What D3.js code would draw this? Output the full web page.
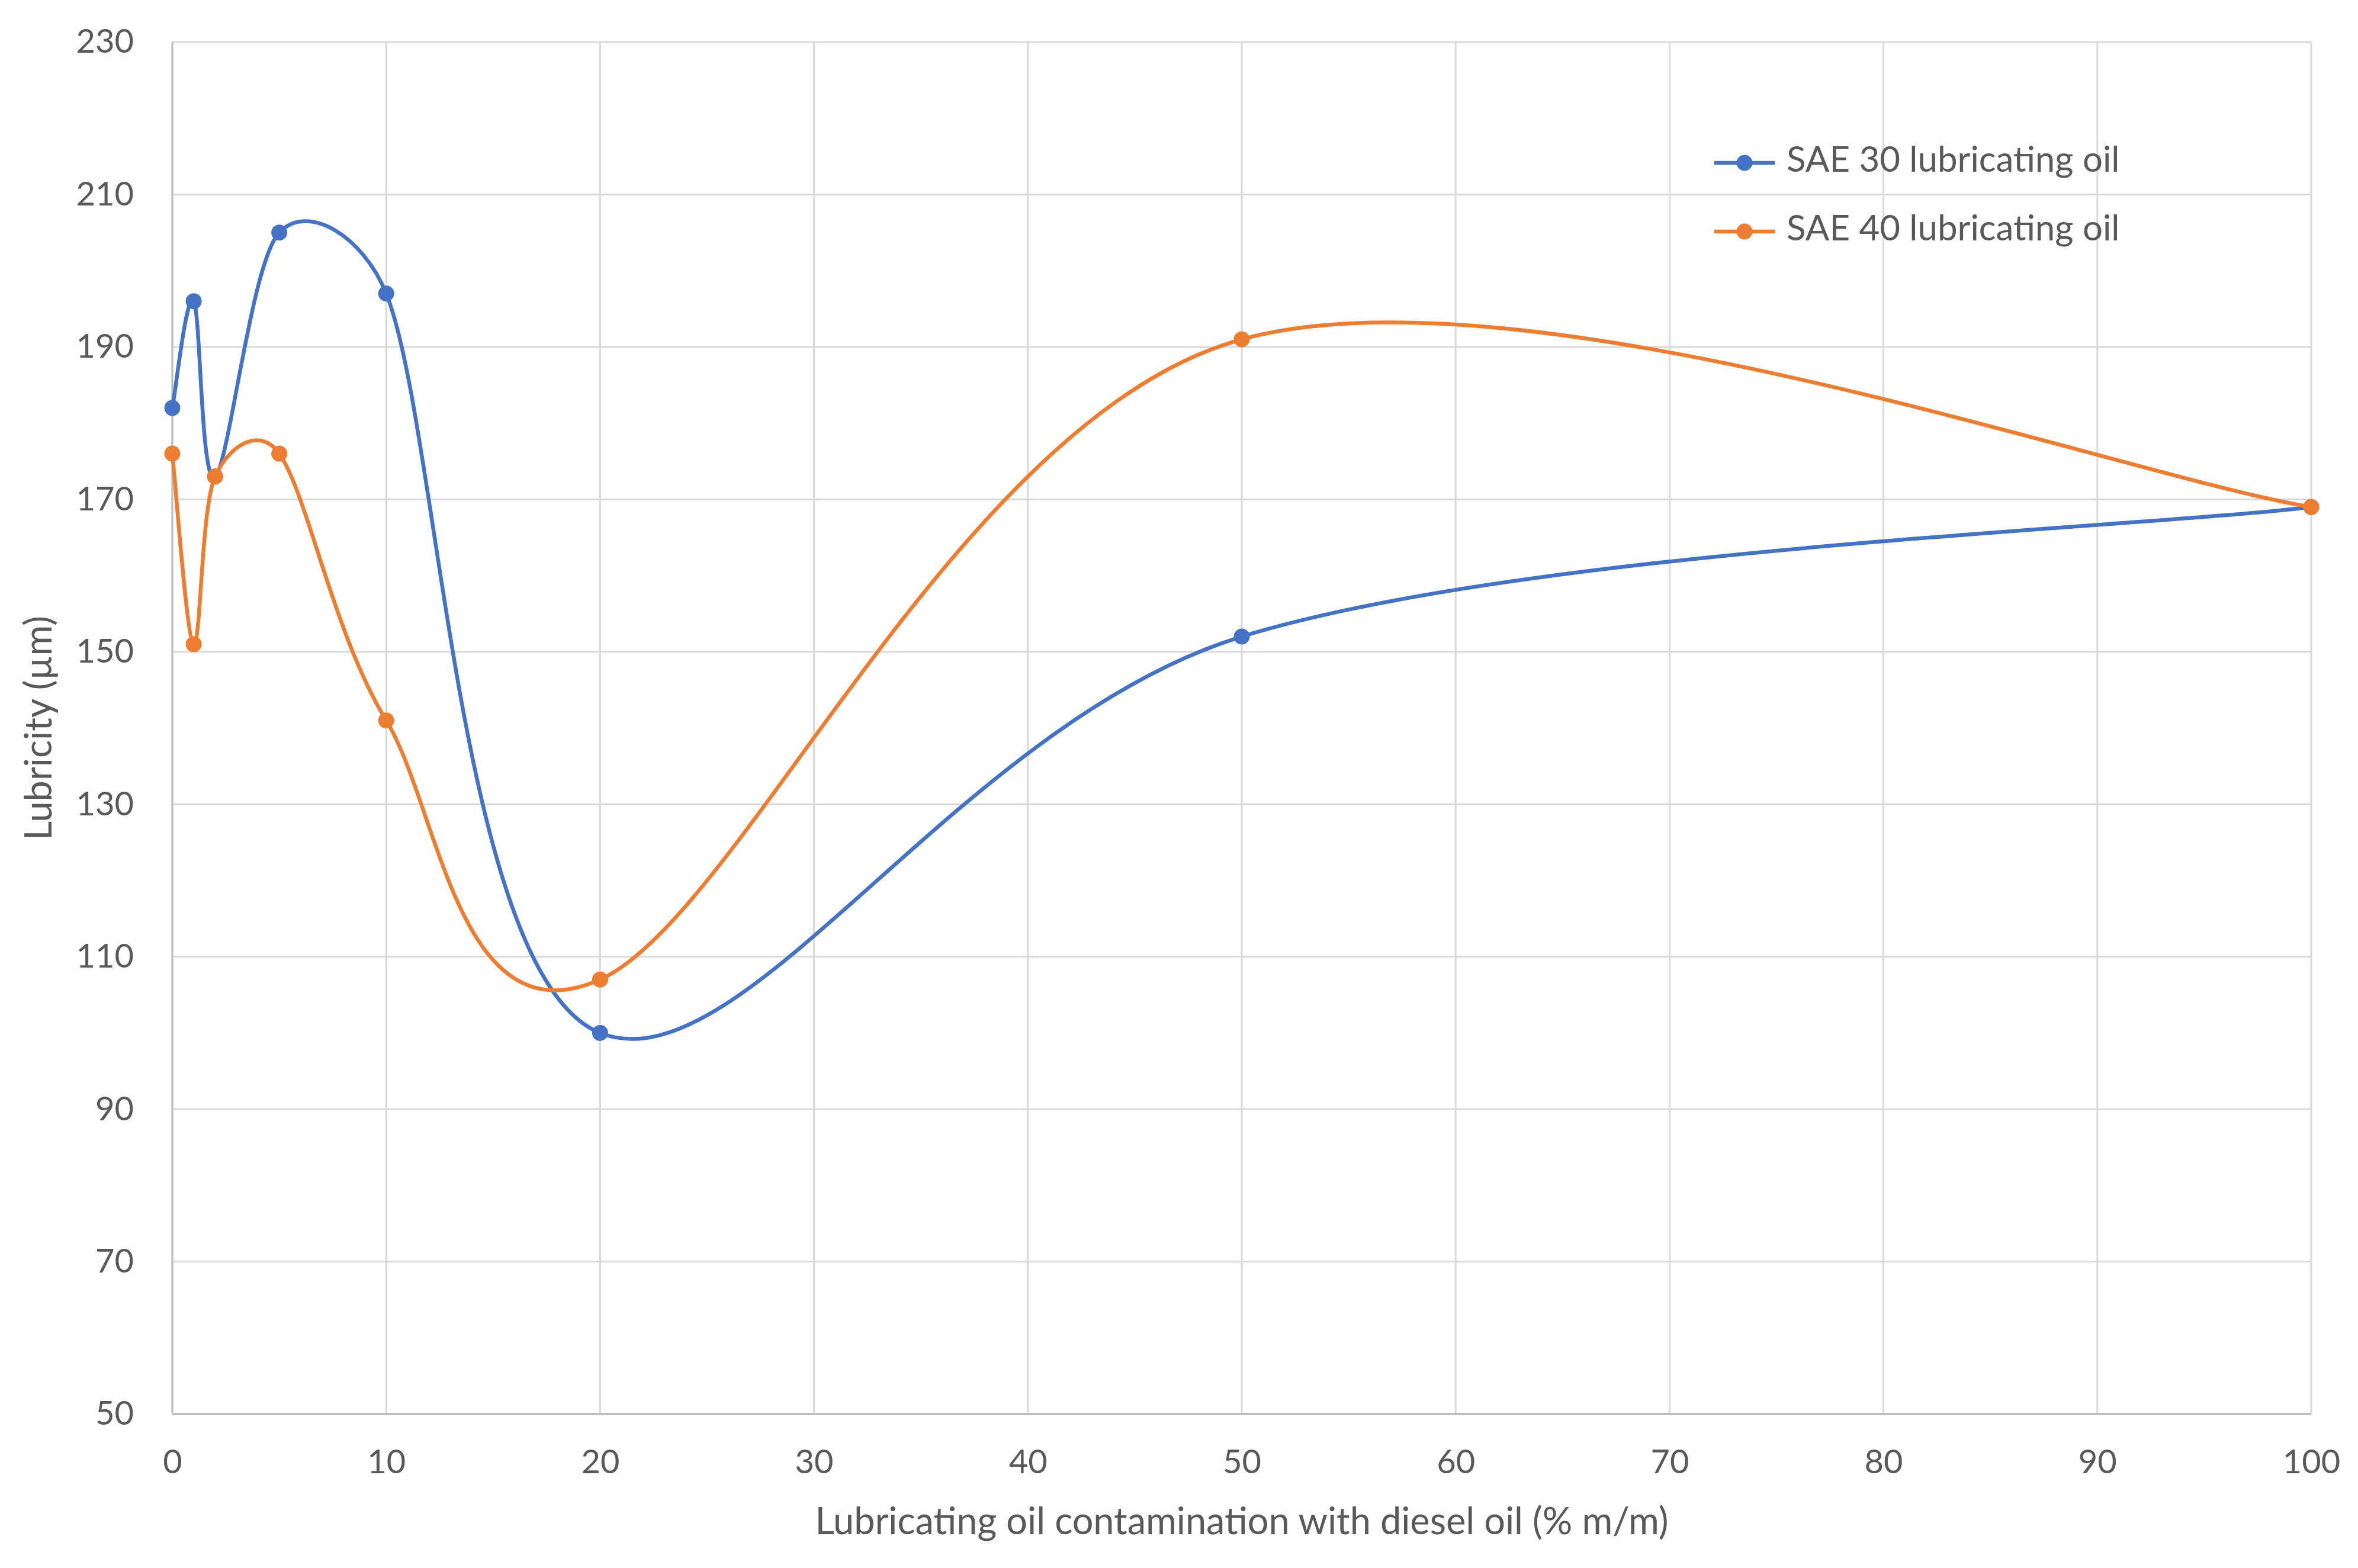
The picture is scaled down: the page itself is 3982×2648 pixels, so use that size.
<!DOCTYPE html>
<html>
<head>
<meta charset="utf-8">
<script src="https://cdn.jsdelivr.net/npm/d3@7"></script>
<style>
  html, body { margin: 0; padding: 0; background: #fff; }
  svg { display: block; }
  text { font-family: Lato, "Open Sans", sans-serif; fill: #595959; }
</style>
</head>
<body>
<svg id="chart" width="3982" height="2648"></svg>
<script>
const xValues = [0, 1, 2, 5, 10, 20, 50, 100];
const sae30 = [182, 196, 173, 205, 197, 100, 152, 169];
const sae40 = [176, 151, 173, 176, 141, 107, 191, 169];
const seriesNames = ["SAE 30 lubricating oil", "SAE 40 lubricating oil"];
const seriesColors = ["#4472C4", "#ED7D31"];
const xTicks = [0, 10, 20, 30, 40, 50, 60, 70, 80, 90, 100];
const yTicks = [50, 70, 90, 110, 130, 150, 170, 190, 210, 230];
const xTitle = "Lubricating oil contamination with diesel oil (% m/m)";
const yTitle = "Lubricity (µm)";

const W = 3982, H = 2648;
const m = { left: 291, right: W - 3903, top: 71, bottom: H - 2388 };
const svg = d3.select("#chart");

const x = d3.scaleLinear().domain([0, 100]).range([m.left, W - m.right]);
const y = d3.scaleLinear().domain([50, 230]).range([H - m.bottom, m.top]);

// Spreadsheet-style smoothed curve (Catmull-Rom Bezier, arms limited to half the segment)
function SmoothCurve(context) { this._context = context; }
SmoothCurve.prototype = {
  areaStart() {}, areaEnd() {},
  lineStart() { this._p = []; },
  point(px, py) { this._p.push([+px, +py]); },
  lineEnd() {
    const p = this._p, c = this._context, n = p.length;
    if (!n) return;
    c.moveTo(p[0][0], p[0][1]);
    const limit = (vx, vy, maxLen) => {
      const L = Math.hypot(vx, vy);
      if (L > maxLen && L > 0) { const s = maxLen / L; return [vx * s, vy * s]; }
      return [vx, vy];
    };
    for (let i = 0; i < n - 1; i++) {
      const p0 = p[Math.max(i - 1, 0)], p1 = p[i], p2 = p[i + 1], p3 = p[Math.min(i + 2, n - 1)];
      const seg = Math.hypot(p2[0] - p1[0], p2[1] - p1[1]);
      const a1 = limit((p2[0] - p0[0]) / 6, (p2[1] - p0[1]) / 6, seg * 0.5);
      const a2 = limit((p3[0] - p1[0]) / 6, (p3[1] - p1[1]) / 6, seg * 0.5);
      c.bezierCurveTo(p1[0] + a1[0], p1[1] + a1[1], p2[0] - a2[0], p2[1] - a2[1], p2[0], p2[1]);
    }
  }
};
const curveSmooth = ctx => new SmoothCurve(ctx);

// gridlines
const g = svg.append("g");
g.selectAll(".hg").data(yTicks).join("line")
  .attr("x1", x(0)).attr("x2", x(100))
  .attr("y1", d => y(d)).attr("y2", d => y(d))
  .attr("stroke", "#d9d9d9").attr("stroke-width", 3);
g.selectAll(".vg").data(xTicks).join("line")
  .attr("x1", d => x(d)).attr("x2", d => x(d))
  .attr("y1", y(50)).attr("y2", y(230))
  .attr("stroke", "#d9d9d9").attr("stroke-width", 3);
// axis lines
g.append("line").attr("x1", x(0)).attr("x2", x(100)).attr("y1", y(50)).attr("y2", y(50))
  .attr("stroke", "#bfbfbf").attr("stroke-width", 4);
g.append("line").attr("x1", x(0)).attr("x2", x(0)).attr("y1", y(50)).attr("y2", y(230))
  .attr("stroke", "#bfbfbf").attr("stroke-width", 3);

// axes labels through d3 axes
const xAxis = d3.axisBottom(x).tickValues(xTicks).tickSize(0).tickPadding(60);
const xa = svg.append("g").attr("transform", `translate(0,${y(50)})`).call(xAxis);
xa.select(".domain").remove();
xa.selectAll("text").attr("font-size", 56).attr("fill", "#595959")
  .style("font-family", "Lato, 'Open Sans', sans-serif");

const yAxis = d3.axisLeft(y).tickValues(yTicks).tickSize(0).tickPadding(65);
const ya = svg.append("g").attr("transform", `translate(${x(0)},0)`).call(yAxis);
ya.select(".domain").remove();
ya.selectAll("text").attr("font-size", 56).attr("fill", "#595959")
  .style("font-family", "Lato, 'Open Sans', sans-serif");

// titles
svg.append("text").attr("x", (x(0) + x(100)) / 2).attr("y", 2575)
  .attr("text-anchor", "middle").attr("dominant-baseline", "middle")
  .attr("font-size", 63).text(xTitle);
svg.append("text").attr("transform", `translate(71,${(y(50) + y(230)) / 2}) rotate(-90)`)
  .attr("text-anchor", "middle").attr("dominant-baseline", "middle")
  .attr("font-size", 63).text(yTitle);

// series
const series = [sae30, sae40];
const line = d3.line().x(d => x(d[0])).y(d => y(d[1])).curve(curveSmooth);
series.forEach((vals, i) => {
  const pts = xValues.map((xv, j) => [xv, vals[j]]);
  svg.append("path").datum(pts).attr("d", line)
    .attr("fill", "none").attr("stroke", seriesColors[i]).attr("stroke-width", 6.5)
    .attr("stroke-linejoin", "round").attr("stroke-linecap", "round");
  svg.selectAll(null).data(pts).join("circle")
    .attr("cx", d => x(d[0])).attr("cy", d => y(d[1])).attr("r", 13.5)
    .attr("fill", seriesColors[i]);
});

// legend
const lg = svg.append("g");
const legY = [275, 391];
seriesNames.forEach((name, i) => {
  lg.append("line").attr("x1", 2895).attr("x2", 2997).attr("y1", legY[i]).attr("y2", legY[i])
    .attr("stroke", seriesColors[i]).attr("stroke-width", 6.5);
  lg.append("circle").attr("cx", 2946).attr("cy", legY[i]).attr("r", 13.5).attr("fill", seriesColors[i]);
  lg.append("text").attr("x", 3017).attr("y", legY[i]).attr("dominant-baseline", "middle")
    .attr("font-size", 60).text(name);
});
</script>
</body>
</html>
